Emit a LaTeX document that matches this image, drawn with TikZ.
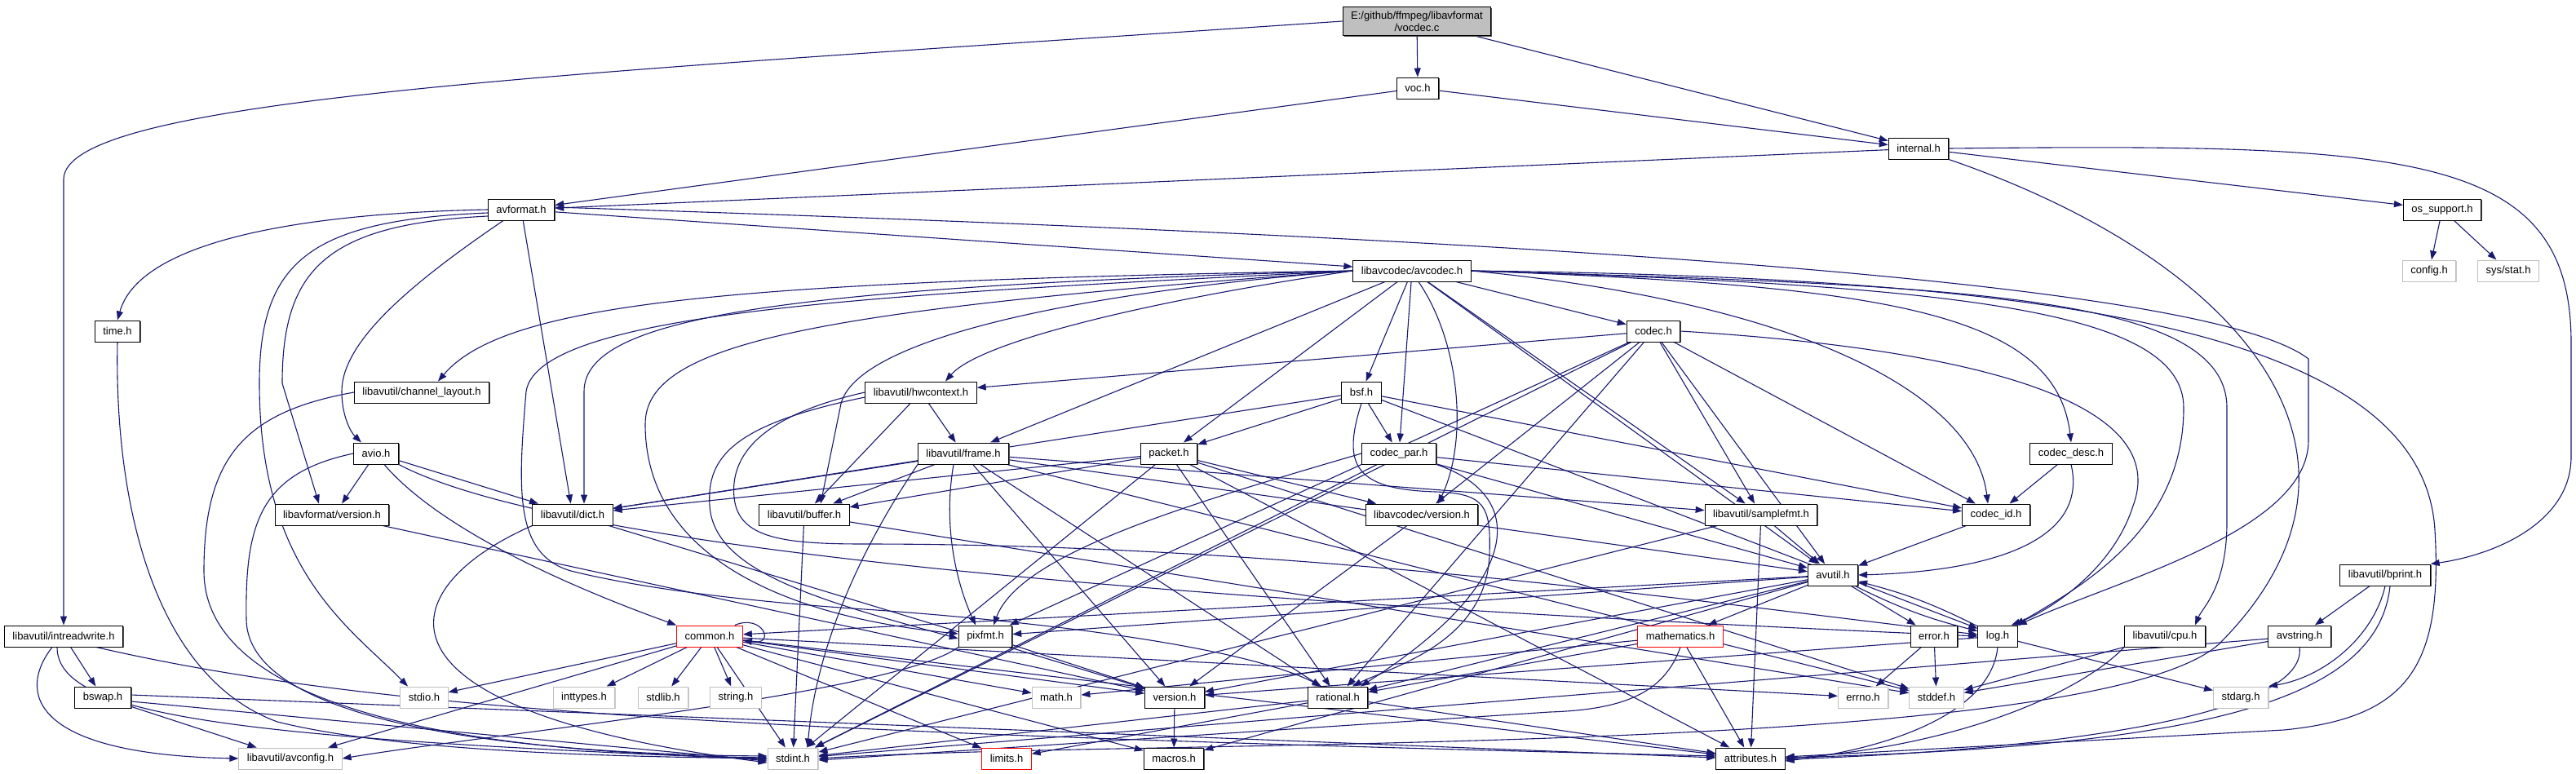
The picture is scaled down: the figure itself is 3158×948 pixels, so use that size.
\documentclass[tikz,border=0pt]{standalone}
\usepackage{fontspec}
\setmainfont{Liberation Sans}
\usetikzlibrary{arrows.meta,shadows}
\definecolor{edgeblue}{HTML}{191970}
\definecolor{sysgray}{HTML}{BFBFBF}
\pgfdeclarelayer{background}
\pgfsetlayers{background,main}
\tikzset{
  nodebase/.style={fill=white, line width=1pt, minimum height=26pt, inner xsep=10pt, inner ysep=2pt, font=\fontsize{13}{15}\selectfont},
  hdrbox/.style={nodebase, draw=black, drop shadow={shadow xshift=1.3pt, shadow yshift=-1.3pt, fill=black!70, opacity=1}},
  sysbox/.style={nodebase, draw=sysgray, drop shadow={shadow xshift=1pt, shadow yshift=-1pt, fill=sysgray!80, opacity=1}},
  truncbox/.style={nodebase, draw=red},
  rootbox/.style={nodebase, draw=black, fill=sysgray, align=center, inner ysep=5pt, drop shadow={shadow xshift=1.3pt, shadow yshift=-1.3pt, fill=black!70, opacity=1}},
  edg/.style={draw=edgeblue, line width=1.1pt, -{Triangle[length=11pt,width=8pt]}},
}
\begin{document}
\begin{tikzpicture}[x=1pt,y=-1pt]
\useasboundingbox (0,0) rectangle (3158,948);
% ---------------- nodes ----------------
\node[rootbox] (root) at (1737,26) {E:/github/ffmpeg/libavformat\\/vocdec.c};
\node[hdrbox] (voc) at (1738,108) {voc.h};
\node[hdrbox] (internal) at (2352,182) {internal.h};
\node[hdrbox] (avformat) at (639,257) {avformat.h};
\node[hdrbox] (ossupport) at (2994,257) {os\_support.h};
\node[hdrbox] (avcodec) at (1731,332) {libavcodec/avcodec.h};
\node[sysbox] (config) at (2978,332) {config.h};
\node[sysbox] (sysstat) at (3075,332) {sys/stat.h};
\node[hdrbox] (time) at (144,406) {time.h};
\node[hdrbox] (codec) at (2027,406) {codec.h};
\node[hdrbox] (chlayout) at (517,481) {libavutil/channel\_layout.h};
\node[hdrbox] (hwctx) at (1129,481) {libavutil/hwcontext.h};
\node[hdrbox] (bsf) at (1669,481) {bsf.h};
\node[hdrbox] (avio) at (461,556) {avio.h};
\node[hdrbox] (frame) at (1181,556) {libavutil/frame.h};
\node[hdrbox] (packet) at (1433,556) {packet.h};
\node[hdrbox] (codecpar) at (1715,556) {codec\_par.h};
\node[hdrbox] (codecdesc) at (2539,556) {codec\_desc.h};
\node[hdrbox] (lavfver) at (407,631) {libavformat/version.h};
\node[hdrbox] (dict) at (702,631) {libavutil/dict.h};
\node[hdrbox] (buffer) at (986,631) {libavutil/buffer.h};
\node[hdrbox] (lavcver) at (1743,631) {libavcodec/version.h};
\node[hdrbox] (samplefmt) at (2159,631) {libavutil/samplefmt.h};
\node[hdrbox] (codecid) at (2447,631) {codec\_id.h};
\node[hdrbox] (avutil) at (2247,705) {avutil.h};
\node[hdrbox] (bprint) at (2924,705) {libavutil/bprint.h};
\node[hdrbox] (intrw) at (78,780) {libavutil/intreadwrite.h};
\node[truncbox] (common) at (870,780) {common.h};
\node[hdrbox] (pixfmt) at (1208,780) {pixfmt.h};
\node[truncbox] (mathem) at (2060,780) {mathematics.h};
\node[hdrbox] (error) at (2371,780) {error.h};
\node[hdrbox] (log) at (2449,780) {log.h};
\node[hdrbox] (cpu) at (2654,780) {libavutil/cpu.h};
\node[hdrbox] (avstring) at (2819,780) {avstring.h};
\node[hdrbox] (bswap) at (126,855) {bswap.h};
\node[sysbox] (stdio) at (520,855) {stdio.h};
\node[sysbox] (inttypes) at (716,855) {inttypes.h};
\node[sysbox] (stdlib) at (813,855) {stdlib.h};
\node[sysbox] (string) at (902,855) {string.h};
\node[sysbox] (math) at (1295,855) {math.h};
\node[hdrbox] (version) at (1440,855) {version.h};
\node[hdrbox] (rational) at (1640,855) {rational.h};
\node[sysbox] (errno) at (2284,855) {errno.h};
\node[sysbox] (stddef) at (2374,855) {stddef.h};
\node[sysbox] (stdarg) at (2747,855) {stdarg.h};
\node[sysbox] (avconfig) at (356,930) {libavutil/avconfig.h};
\node[sysbox] (stdint) at (972,930) {stdint.h};
\node[truncbox] (limits) at (1234,930) {limits.h};
\node[hdrbox] (macros) at (1439,930) {macros.h};
\node[hdrbox] (attributes) at (2146,930) {attributes.h};
% ---------------- edges ----------------
\begin{pgfonlayer}{background}
% top
\draw[edg] (root) -- (voc);
\draw[edg] (root) -- (internal);
\draw[edg] (root.west) .. controls (700,90) and (78,120) .. (78,220) -- (intrw.north);
\draw[edg] (voc) -- (avformat);
\draw[edg] (voc) -- (internal);
\draw[edg] (internal) -- (avformat);
\draw[edg] (internal) -- (ossupport);
\draw[edg] (internal.east) .. controls (2950,176) and (3152,184) .. (3152,420) -- (3152,560) .. controls (3152,640) and (3060,680) .. (bprint.north east);
\draw[edg] (internal.south east) .. controls (2750,320) and (2950,560) .. (2720,790) .. controls (2560,930) and (1400,905) .. (stdint.east);
\draw[edg] (ossupport) -- (config);
\draw[edg] (ossupport) -- (sysstat);
% avformat
\draw[edg] (avformat.west) .. controls (350,262) and (170,300) .. (time.north);
\draw[edg] ([yshift=-4pt]avformat.west) .. controls (380,270) and (318,320) .. (318,470) .. controls (318,700) and (430,770) .. ([xshift=-20pt]stdio.north);
\draw[edg] ([yshift=-8pt]avformat.west) .. controls (400,275) and (346,330) .. (346,470) -- ([xshift=-16pt]lavfver.north);
\draw[edg] ([xshift=-22pt]avformat.south) .. controls (500,350) and (419,420) .. (419,480) .. controls (419,510) and (430,530) .. ([xshift=-18pt]avio.north);
\draw[edg] (avformat) -- (dict);
\draw[edg] (avformat) -- (avcodec);
\draw[edg] ([yshift=3pt]avformat.east) .. controls (1800,290) and (2700,340) .. (2830,440) -- (2830,540) .. controls (2830,650) and (2600,710) .. (log.north east);
% avio
\draw[edg] (avio) -- ([xshift=12pt]lavfver.north);
\draw[edg] (avio) -- ([xshift=-42pt]dict.north);
\draw[edg] ([xshift=10pt]avio.south) .. controls (540,650) and (700,720) .. (common.north west);
\draw[edg] (avio.south east) .. controls (700,680) and (1500,740) .. (log.west);
\draw[edg] (avio.west) .. controls (320,580) and (300,640) .. (302,760) .. controls (305,900) and (700,925) .. ([yshift=3pt]stdint.west);
% channel layout, time
\draw[edg] (chlayout.west) .. controls (300,505) and (250,560) .. (250,700) .. controls (250,900) and (700,925) .. ([yshift=1pt]stdint.west);
\draw[edg] (time.south) .. controls (140,620) and (190,830) .. (340,885) .. controls (500,925) and (800,928) .. (stdint.west);
% intreadwrite
\draw[edg] (intrw) -- (bswap);
\draw[edg] ([xshift=-14pt]intrw.south) .. controls (20,850) and (40,925) .. (avconfig.west);
\draw[edg] ([xshift=-8pt]intrw.south) .. controls (70,880) and (300,905) .. ([yshift=-1pt]stdint.west);
\draw[edg] ([xshift=40pt]intrw.south) .. controls (450,870) and (900,898) .. ([yshift=3pt]attributes.west);
% bswap
\draw[edg] (bswap) -- (avconfig);
\draw[edg] ([yshift=-5pt]bswap.east) -- ([yshift=-3pt]stdint.west);
\draw[edg] ([yshift=3pt]bswap.east) -- ([yshift=1pt]attributes.west);
% avcodec
\draw[edg] (avcodec) -- (samplefmt);
\draw[edg] (avcodec.east) .. controls (2500,340) and (2970,400) .. (2985,650) .. controls (2995,820) and (2950,880) .. (2800,895) -- ([yshift=2pt]attributes.east);
\draw[edg] (avcodec) -- (avutil);
\draw[edg] (avcodec.west) .. controls (1300,360) and (1040,420) .. (1030,500) -- ([xshift=20pt]buffer.north);
\draw[edg] (avcodec.east) .. controls (2400,350) and (2730,360) .. (2730,500) -- (2730,640) .. controls (2730,720) and (2700,745) .. ([xshift=37pt]cpu.north);
\draw[edg] (avcodec.west) .. controls (900,345) and (620,370) .. ([xshift=20pt]chlayout.north);
\draw[edg] (avcodec.west) .. controls (950,352) and (716,390) .. (716,480) -- ([xshift=14pt]dict.north);
\draw[edg] (avcodec) -- (frame);
\draw[edg] (avcodec.west) .. controls (1400,370) and (1200,420) .. ([xshift=30pt]hwctx.north);
\draw[edg] (avcodec.east) .. controls (2400,350) and (2677,380) .. (2677,500) .. controls (2677,650) and (2550,720) .. ([xshift=-3pt]log.north east);
\draw[edg] (avcodec.west) .. controls (1000,380) and (791,420) .. (791,520) .. controls (791,700) and (1000,760) .. ([yshift=3pt]pixfmt.west);
\draw[edg] (avcodec.west) .. controls (1100,360) and (660,380) .. (645,480) .. controls (635,600) and (630,680) .. (700,700) .. controls (800,725) and (950,740) .. (1060,747) .. controls (1250,760) and (1520,790) .. ([xshift=-20pt]rational.north);
\draw[edg] (avcodec) -- (bsf);
\draw[edg] (avcodec) -- (codec);
\draw[edg] (avcodec.east) .. controls (2300,350) and (2520,380) .. (codecdesc.north);
\draw[edg] (avcodec.east) .. controls (2200,370) and (2420,480) .. ([xshift=-10pt]codecid.north);
\draw[edg] (avcodec) -- (codecpar);
\draw[edg] (avcodec) -- (packet);
\draw[edg] ([xshift=8pt]avcodec.south) .. controls (1790,420) and (1800,540) .. ([xshift=20pt]lavcver.north);
% codec
\draw[edg] (codec) -- (stdint);
\draw[edg] (codec) -- (avutil);
\draw[edg] (codec) -- (hwctx);
\draw[edg] (codec.east) .. controls (2450,430) and (2660,500) .. (2615,620) .. controls (2590,700) and (2510,750) .. ([xshift=-8pt]log.north east);
\draw[edg] (codec) -- (pixfmt);
\draw[edg] (codec) -- (rational);
\draw[edg] (codec) -- (samplefmt);
\draw[edg] (codec) -- (codecid);
\draw[edg] (codec) -- (lavcver);
% hwcontext
\draw[edg] (hwctx) -- (buffer);
\draw[edg] (hwctx) -- (frame);
\draw[edg] (hwctx.west) .. controls (930,510) and (895,560) .. (900,610) .. controls (905,660) and (960,667) .. (1060,667) .. controls (1600,667) and (2100,740) .. ([yshift=2pt]log.west);
\draw[edg] ([yshift=-6pt]hwctx.west) .. controls (900,520) and (866,560) .. (870,620) .. controls (875,700) and (1000,735) .. ([yshift=-3pt]pixfmt.west);
% frame
\draw[edg] (frame) -- (stddef);
\draw[edg] (frame.south west) .. controls (1050,680) and (1000,800) .. ([xshift=18pt]stdint.north);
\draw[edg] (frame) -- (avutil);
\draw[edg] (frame) -- (buffer);
\draw[edg] (frame) -- (dict);
\draw[edg] (frame) -- (rational);
\draw[edg] (frame) -- (samplefmt);
\draw[edg] ([xshift=-12pt]frame.south) .. controls (1155,650) and (1175,720) .. ([xshift=-12pt]pixfmt.north);
\draw[edg] (frame) -- (version);
% packet
\draw[edg] (packet) -- (stddef);
\draw[edg] (packet) -- (stdint);
\draw[edg] (packet) -- (attributes);
\draw[edg] (packet) -- (buffer);
\draw[edg] (packet) -- (dict);
\draw[edg] (packet) -- (rational);
\draw[edg] (packet) -- (lavcver);
% bsf
\draw[edg] (bsf) -- (dict);
\draw[edg] (bsf) -- (log);
\draw[edg] (bsf.south) .. controls (1645,570) and (1660,600) .. (1760,603) .. controls (1820,605) and (1828,620) .. (1826,680) .. controls (1822,790) and (1700,820) .. ([xshift=18pt]rational.north);
\draw[edg] (bsf) -- (codecid);
\draw[edg] (bsf) -- (codecpar);
\draw[edg] (bsf) -- (packet);
% codec_par
\draw[edg] (codecpar) -- (stdint);
\draw[edg] (codecpar) -- (avutil);
\draw[edg] (codecpar.south east) .. controls (1880,610) and (1860,720) .. ([xshift=28pt]rational.north);
\draw[edg] (codecpar.west) .. controls (1450,620) and (1250,680) .. ([xshift=10pt]pixfmt.north);
\draw[edg] (codecpar) -- (codecid);
% codec_desc, codec_id
\draw[edg] (codecdesc) -- (codecid);
\draw[edg] (codecdesc.south) .. controls (2560,660) and (2450,700) .. (avutil.east);
\draw[edg] (codecid) -- (avutil);
% version headers, dict, buffer
\draw[edg] (lavfver) -- (version);
\draw[edg] (dict.south west) .. controls (480,720) and (430,870) .. ([yshift=-5pt]stdint.west);
\draw[edg] (dict) -- (version);
\draw[edg] (buffer) -- (stddef);
\draw[edg] (buffer) -- (stdint);
\draw[edg] (lavcver) -- (version);
% samplefmt
\draw[edg] (samplefmt) -- (stdint);
\draw[edg] (samplefmt) -- (avutil);
\draw[edg] (samplefmt) -- (attributes);
% avutil
\draw[edg] (avutil) -- (common);
\draw[edg] (avutil) -- (error);
\draw[edg] (avutil) -- (rational);
\draw[edg] (avutil) -- (version);
\draw[edg] (avutil) -- (macros);
\draw[edg] (avutil) -- (mathem);
\draw[edg] (avutil) to[bend right=6] (log);
\draw[edg] (log) to[bend right=6] (avutil);
\draw[edg] (avutil) -- (pixfmt);
% log
\draw[edg] (log) -- (stdarg);
\draw[edg] (log.south) .. controls (2440,880) and (2300,920) .. ([yshift=-3pt]attributes.east);
\draw[edg] (log) -- (version);
% common
\draw[edg] ([xshift=-10pt]common.north east) .. controls (935,752) and (952,792) .. ([yshift=-5pt]common.east);
\draw[edg] (common) -- (errno);
\draw[edg] (common) -- (inttypes);
\draw[edg] (common) -- (stdlib);
\draw[edg] (common) -- (string);
\draw[edg] (common) -- (stdio);
\draw[edg] (common) -- (limits);
\draw[edg] (common) -- (math);
\draw[edg] (common) -- (stdint);
\draw[edg] (common) -- (attributes);
\draw[edg] (common) -- (macros);
\draw[edg] (common) -- (version);
\draw[edg] (common) -- (avconfig);
% error, cpu, avstring, bprint
\draw[edg] (error) -- (errno);
\draw[edg] (error) -- (stddef);
\draw[edg] (cpu) -- (stddef);
\draw[edg] (cpu.south west) .. controls (2550,850) and (2400,915) .. (attributes.east);
\draw[edg] (avstring) -- (stddef);
\draw[edg] (avstring) -- (stdint);
\draw[edg] (avstring.south) .. controls (2830,880) and (2500,920) .. ([yshift=-1pt]attributes.east);
\draw[edg] (bprint) -- (avstring);
\draw[edg] (bprint.south) .. controls (2910,780) and (2850,830) .. (stdarg.north east);
\draw[edg] ([xshift=6pt]bprint.south) .. controls (2915,860) and (2700,915) .. ([yshift=1pt]attributes.east);
% pixfmt, version, rational, mathematics
\draw[edg] (pixfmt.south west) .. controls (1100,850) and (600,900) .. (avconfig.east);
\draw[edg] (pixfmt) -- (version);
\draw[edg] (version) -- (macros);
\draw[edg] (rational) -- (stdint);
\draw[edg] (rational) -- (limits);
\draw[edg] (rational) -- (attributes);
\draw[edg] (mathem.south) .. controls (2040,850) and (1990,870) .. (1900,873) -- ([yshift=-2pt]stdint.east);
\draw[edg] (mathem) -- (math);
\draw[edg] (mathem) -- (rational);
\draw[edg] (mathem) -- (attributes);
\end{pgfonlayer}
\end{tikzpicture}
\end{document}
